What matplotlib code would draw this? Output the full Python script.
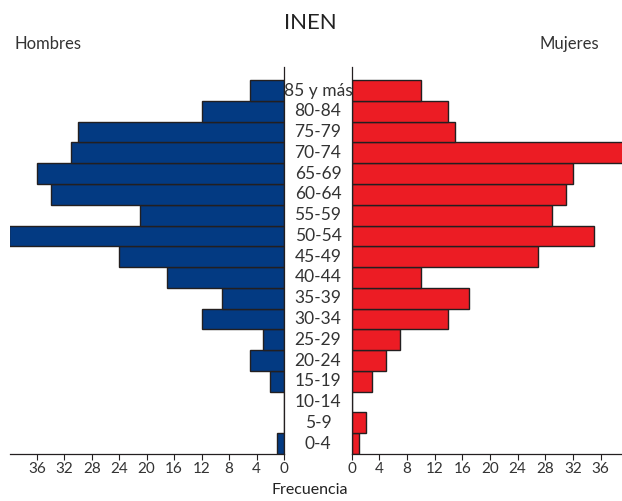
import matplotlib
matplotlib.use("Agg")
import matplotlib.pyplot as plt
import matplotlib.transforms as mtransforms

plt.rcParams['font.family'] = ['Lato', 'DejaVu Sans']

categories = ["0-4", "5-9", "10-14", "15-19", "20-24", "25-29", "30-34", "35-39",
              "40-44", "45-49", "50-54", "55-59", "60-64", "65-69", "70-74",
              "75-79", "80-84", "85 y más"]
hombres = [1, 0, 0, 2, 5, 3, 12, 9, 17, 24, 40, 21, 34, 36, 31, 30, 12, 5]
mujeres = [1, 2, 0, 3, 5, 7, 14, 17, 10, 27, 35, 29, 31, 32, 40, 15, 14, 10]
ticks = [0, 4, 8, 12, 16, 20, 24, 28, 32, 36]

W, H = 622, 501
fig = plt.figure(figsize=(W / 100, H / 100), dpi=100)

bottom = (H - 454) / H
top = (H - 66.7) / H
axL = fig.add_axes([10 / W, bottom, (284 - 10) / W, top - bottom])
axR = fig.add_axes([351.7 / W, bottom, (W - 351.7) / W, top - bottom])

y = list(range(len(categories)))
blue = "#033A82"
red = "#EC1C24"
edge = "#231F20"

axL.barh(y, hombres, height=1.0, color=blue, edgecolor=edge, linewidth=1.0)
axR.barh(y, mujeres, height=1.0, color=red, edgecolor=edge, linewidth=1.0, clip_on=True)

ymin, ymax = -0.5, 18.15
axL.set_xlim(39.9, 0)
axR.set_xlim(0, 39.1)
for ax in (axL, axR):
    ax.set_ylim(ymin, ymax)
    ax.set_yticks([])
    ax.set_xticks(ticks)
    ax.set_xticklabels([str(t) for t in ticks])
    ax.tick_params(axis='x', direction='out', length=4, width=0.8, colors='#231F20',
                   labelsize=11, labelcolor='#333333', pad=2)
    ax.spines['top'].set_visible(False)
    ax.patch.set_alpha(0)

axL.spines['left'].set_visible(False)
axR.spines['right'].set_visible(False)
for ax in (axL, axR):
    for s in ax.spines.values():
        s.set_color('#231F20')
        s.set_linewidth(0.9)

trans = mtransforms.blended_transform_factory(fig.transFigure, axL.transData)
xc = (284 + 352) / 2 / W
for i, c in enumerate(categories):
    fig.text(xc, i, c, transform=trans, ha='center', va='center',
             fontsize=12.5, color='#333333')

fig.text(310 / W, 1 - 23 / H, "INEN", ha='center', va='center', fontsize=16, color='#222222')
fig.text(15 / W, 1 - 44 / H, "Hombres", ha='left', va='center', fontsize=12, color='#333333')
fig.text(599 / W, 1 - 44 / H, "Mujeres", ha='right', va='center', fontsize=12, color='#333333')
fig.text(310 / W, 1 - 490 / H, "Frecuencia", ha='center', va='center', fontsize=11.5, color='#222222')

fig.savefig("out.png", dpi=100)
